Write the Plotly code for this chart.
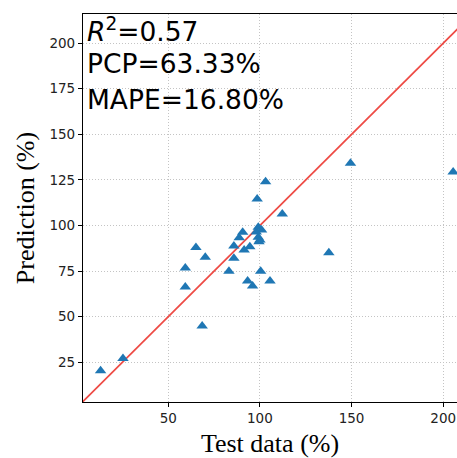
import plotly.graph_objects as go

test_data = [103.1, 98.5, 112.2, 99.1, 100.9, 90.6, 88.7, 99.1, 100.0, 99.5,
             85.8, 94.5, 91.4, 65.1, 70.2, 85.8, 59.3, 83.1, 100.4, 59.3,
             93.3, 96.0, 105.5, 68.5, 149.4, 205.4, 137.6, 13.1, 25.3, 98.0]
prediction = [124.0, 114.5, 106.3, 99.0, 97.5, 96.3, 93.3, 93.5, 92.1, 91.1,
              88.8, 88.4, 86.6, 88.0, 82.6, 82.0, 76.7, 74.9, 74.9, 66.3,
              69.6, 66.8, 69.6, 44.9, 134.1, 129.3, 85.1, 20.4, 27.0, 96.5]
ref_line = [0, 230]
x_ticks = [50, 100, 150, 200]
y_ticks = [25, 50, 75, 100, 125, 150, 175, 200]
metrics = ["<i>R</i><sup>2</sup>=0.57", "PCP=63.33%", "MAPE=16.80%"]

fig = go.Figure()
fig.add_trace(go.Scatter(x=ref_line, y=ref_line, mode="lines",
                         line=dict(color="#ee4b45", width=1.8), showlegend=False))
fig.add_trace(go.Scatter(x=test_data, y=prediction, mode="markers",
                         marker=dict(symbol="triangle-up", size=10, color="#1f77b4"),
                         showlegend=False))

ys = [0.958, 0.872, 0.779]
for t, yy in zip(metrics, ys):
    fig.add_annotation(text=t, xref="paper", yref="paper", x=0, y=yy,
                       xanchor="left", yanchor="middle", showarrow=False,
                       xshift=2, font=dict(family="DejaVu Sans", size=26.5, color="black"))

axis_common = dict(showline=True, linecolor="black", linewidth=1.2,
                   ticks="outside", ticklen=4, tickcolor="black",
                   showgrid=True, gridcolor="#c4c4c4", gridwidth=1, griddash="1px,2px",
                   zeroline=False,
                   tickfont=dict(family="DejaVu Sans", size=13.5, color="#222"))

fig.update_xaxes(range=[3.5, 207.5], tickvals=x_ticks, mirror=True,
                 title=dict(text="Test data (%)", standoff=8,
                            font=dict(family="Liberation Serif", size=26, color="black")),
                 **axis_common)
fig.update_yaxes(range=[3.2, 216], tickvals=y_ticks, mirror=False,
                 title=dict(text="Prediction (%)", standoff=7,
                            font=dict(family="Liberation Serif", size=26, color="black")),
                 **axis_common)

fig.update_layout(width=457, height=458, margin=dict(l=83, r=0, t=14, b=56),
                  plot_bgcolor="white", paper_bgcolor="white")

fig.write_html("out.html")
